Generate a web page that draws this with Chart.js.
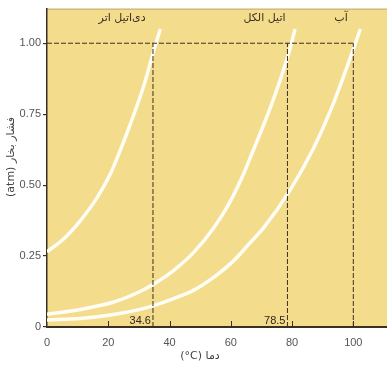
<!DOCTYPE html>
<html>
<head>
<meta charset="utf-8">
<script src="https://cdn.jsdelivr.net/npm/chart.js@4"></script>
<style>
html,body{margin:0;padding:0;background:#fff;}
canvas{display:block;}
</style>
</head>
<body>
<canvas id="c" width="387" height="365"></canvas>
<script>
// Data (temperature °C, vapour pressure atm)
const etherT   = [0, 5.4, 10.9, 16.3, 20.7, 24, 27.2, 31.6, 35.4, 37.0];
const etherP   = [0.265, 0.31, 0.375, 0.455, 0.54, 0.625, 0.715, 0.85, 0.995, 1.05];
const ethanolT = [0, 10.9, 21.8, 30.4, 35.3, 41.3, 47.8, 54.4, 59.8, 64.2, 66.3, 74, 78.9, 81];
const ethanolP = [0.045, 0.062, 0.088, 0.125, 0.154, 0.199, 0.262, 0.349, 0.442, 0.54, 0.595, 0.805, 0.965, 1.05];
const waterT   = [0, 10.9, 21.8, 30.4, 35.3, 41.3, 47.8, 54.4, 60.9, 66.3, 70.7, 79.4, 87, 93.6, 100.3, 102.3];
const waterP   = [0.025, 0.03, 0.044, 0.062, 0.077, 0.1, 0.129, 0.175, 0.233, 0.297, 0.349, 0.483, 0.63, 0.791, 0.988, 1.05];
const boilingPoints = [34.6, 78.5, 100];
const boilingLabels = ["34.6", "78.5", ""];
const seriesNames = ["دی‌اتیل اتر", "اتیل الکل", "آب"];
const seriesLabelT = [24.5, 71, 96];
const xTicks = [0, 20, 40, 60, 80, 100];
const yTicks = [0, 0.25, 0.5, 0.75, 1.0];
const yTickLabels = ["0", "0.25", "0.50", "0.75", "1.00"];
const xTitle = "(°C) دما";
const yTitle = "(atm) فشار بخار";

const pts = (xs, ys) => xs.map((x, i) => ({x, y: ys[i]}));
const DARK = '#3b2f22';

const curveStyle = {
  borderColor: '#fffdf4', borderWidth: 3.5, pointRadius: 0, fill: false,
  cubicInterpolationMode: 'monotone', showLine: true
};
const dashStyle = {
  borderColor: DARK, borderWidth: 1, borderDash: [5, 2], pointRadius: 0,
  fill: false, showLine: true, tension: 0
};

const datasets = [
  Object.assign({data: pts([0, 100], [1, 1])}, dashStyle),
  ...boilingPoints.map(b => Object.assign({data: pts([b, b], [0, 1])}, dashStyle)),
  Object.assign({data: pts(etherT, etherP)}, curveStyle),
  Object.assign({data: pts(ethanolT, ethanolP)}, curveStyle),
  Object.assign({data: pts(waterT, waterP)}, curveStyle),
];

const decor = {
  id: 'decor',
  beforeDraw(chart) {
    const {ctx, chartArea: a} = chart;
    ctx.save();
    ctx.fillStyle = '#f4dc8d';
    ctx.fillRect(a.left, a.top, a.right - a.left, a.bottom - a.top);
    ctx.strokeStyle = 'rgba(90,70,40,0.35)';
    ctx.lineWidth = 1;
    ctx.beginPath();
    ctx.moveTo(a.left, a.top + 0.5); ctx.lineTo(a.right, a.top + 0.5);
    ctx.stroke();
    ctx.restore();
  },
  afterDraw(chart) {
    const {ctx, chartArea: a, scales: {x, y}} = chart;
    ctx.save();
    // inward x ticks
    ctx.strokeStyle = DARK; ctx.lineWidth = 1;
    xTicks.slice(1).forEach(t => {
      const px = Math.round(x.getPixelForValue(t)) + 0.5;
      ctx.beginPath(); ctx.moveTo(px, a.bottom); ctx.lineTo(px, a.bottom - 6); ctx.stroke();
    });
    // boiling point labels
    ctx.fillStyle = '#2e261b';
    ctx.font = '11px "Liberation Sans", Arial, sans-serif';
    ctx.textAlign = 'right'; ctx.textBaseline = 'bottom';
    boilingPoints.forEach((b, i) => {
      if (boilingLabels[i]) ctx.fillText(boilingLabels[i], x.getPixelForValue(b) - 2, a.bottom - 1);
    });
    // series names
    ctx.font = '11px "DejaVu Sans", "Noto Sans", sans-serif';
    ctx.textAlign = 'center'; ctx.textBaseline = 'middle';
    ctx.fillStyle = '#3a2f22';
    seriesNames.forEach((n, i) => ctx.fillText(n, x.getPixelForValue(seriesLabelT[i]), 18));
    // axis titles
    ctx.fillStyle = '#444';
    ctx.font = '11px "DejaVu Sans", "Liberation Sans", sans-serif';
    ctx.fillText(xTitle, 200, 356);
    ctx.translate(11, 157);
    ctx.rotate(-Math.PI / 2);
    ctx.fillText(yTitle, 0, 0);
    ctx.restore();
  }
};

new Chart(document.getElementById('c'), {
  type: 'scatter',
  data: {datasets},
  options: {
    responsive: false,
    animation: false,
    layout: {padding: {top: 5, right: 0, left: 0, bottom: 0}},
    plugins: {legend: {display: false}, tooltip: {enabled: false}},
    scales: {
      x: {
        type: 'linear', min: 0, max: 111,
        afterFit(s) { s.height = 38; },
        afterBuildTicks(s) { s.ticks = xTicks.map(v => ({value: v})); },
        grid: {display: false, tickLength: 0},
        border: {display: true, color: DARK, width: 2},
        ticks: {color: '#555', padding: 9, font: {size: 11, family: '"Liberation Sans", Arial, sans-serif'},
                maxRotation: 0, callback: v => String(v)}
      },
      y: {
        type: 'linear', min: 0, max: 1.122,
        afterFit(s) { s.width = 47; },
        afterBuildTicks(s) { s.ticks = yTicks.map(v => ({value: v})); },
        grid: {display: true, drawOnChartArea: false, drawTicks: true, tickLength: 4, color: DARK, lineWidth: 1.2},
        border: {display: true, color: DARK, width: 1.5},
        ticks: {color: '#555', padding: 2, font: {size: 11, family: '"Liberation Sans", Arial, sans-serif'},
                callback: (v) => { const i = yTicks.indexOf(v); return i >= 0 ? yTickLabels[i] : ''; }}
      }
    }
  },
  plugins: [decor]
});
</script>
</body>
</html>
